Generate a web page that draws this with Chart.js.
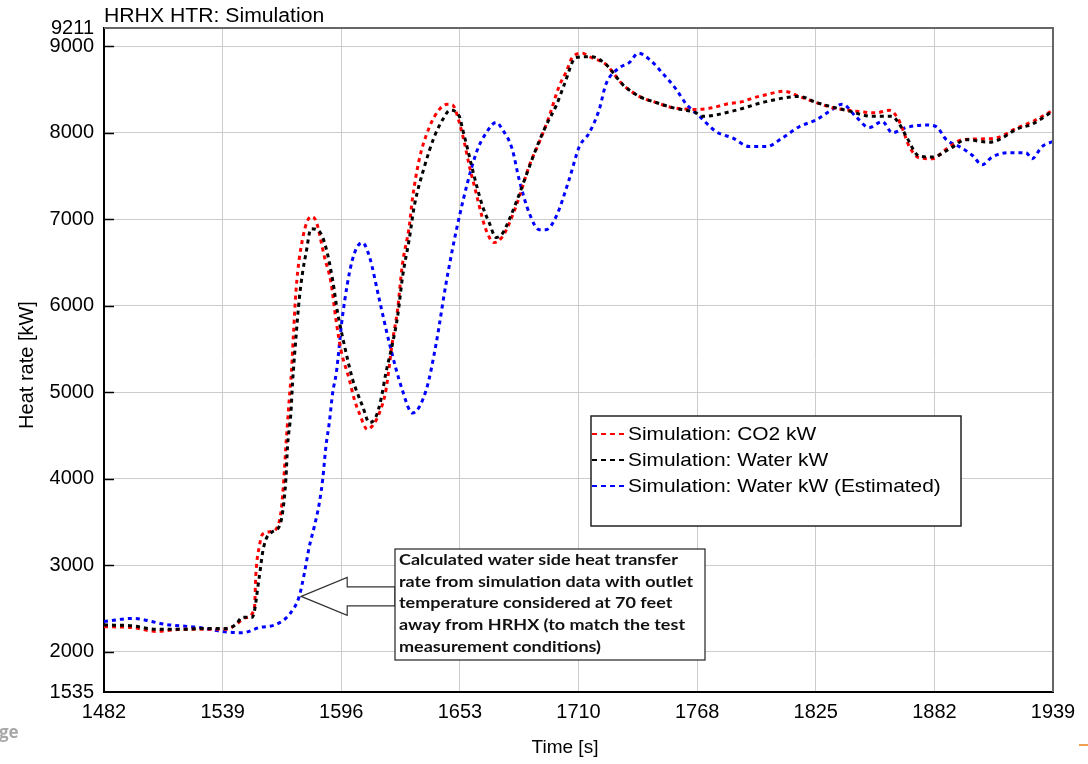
<!DOCTYPE html>
<html>
<head>
<meta charset="utf-8">
<script src="https://cdn.jsdelivr.net/npm/chart.js@4.4.0/dist/chart.umd.min.js"></script>
<style>
html, body { margin: 0; padding: 0; background: #fff; }
#wrap { width: 1088px; height: 764px; position: relative; }
</style>
</head>
<body>
<div id="wrap"><canvas id="hrhxChart" width="1088" height="764"></canvas></div>
<script>
// time axis [s] and heat rate [kW]
const co2Time = [1482, 1495.6, 1507.2, 1519.7, 1531.3, 1540.9, 1545.7, 1549.6, 1554.4, 1555.2,
    1556.8, 1558.4, 1562.4, 1565.6, 1567.2, 1568, 1568.8, 1569.6, 1570.4, 1571.2,
    1572.3, 1573.3, 1574.5, 1577.6, 1581.7, 1584.1, 1588.1, 1591.3, 1593.7, 1596.1,
    1600.1, 1602.5, 1604.9, 1608.9, 1611.2, 1614.6, 1617.8, 1620.8, 1623.4, 1625.6,
    1629, 1630.5, 1633.8, 1638.6, 1643.5, 1647.3, 1649.9, 1653.1, 1655.5, 1657.9,
    1660.3, 1663.5, 1665.9, 1669.9, 1673.9, 1678, 1682, 1686.8, 1691.6, 1696.4,
    1701.2, 1704.5, 1707.5, 1712.5, 1715.7, 1723.7, 1731.7, 1739.8, 1747.8, 1755.8,
    1767.1, 1775.1, 1781.5, 1789.5, 1794.3, 1800.8, 1809.6, 1816.8, 1824.9, 1832.9,
    1844.1, 1853.8, 1860.2, 1864.2, 1866.6, 1869.8, 1874.6, 1881, 1887.5, 1895.5,
    1906.7, 1913.1, 1921.2, 1929.2, 1939];
const co2Kw = [2290, 2280, 2235, 2260, 2260, 2260, 2315, 2390, 2490, 2920,
    3220, 3360, 3390, 3450, 3610, 3800, 4070, 4380, 4650, 4920,
    5250, 5700, 6190, 6770, 7030, 6980, 6570, 6270, 5840, 5490,
    5150, 4920, 4760, 4570, 4610, 4760, 5030, 5570, 5960, 6460,
    6920, 7230, 7690, 8060, 8270, 8330, 8320, 8120, 7890, 7620,
    7390, 7080, 6880, 6730, 6800, 7000, 7260, 7620, 7890, 8190,
    8540, 8700, 8870, 8920, 8880, 8790, 8560, 8420, 8350, 8290,
    8270, 8290, 8330, 8360, 8400, 8440, 8480, 8420, 8350, 8290,
    8250, 8230, 8260, 8170, 8040, 7840, 7710, 7700, 7810, 7920,
    7930, 7950, 8050, 8130, 8260];

const waterTime = [1482, 1495.6, 1507.2, 1519.7, 1531.3, 1540.9, 1545.7, 1548.6, 1553.4, 1556.8,
    1558.4, 1560, 1563.2, 1566.4, 1568, 1569.6, 1570.4, 1572, 1572.8, 1574.5,
    1576, 1577.6, 1579.3, 1581.7, 1585.7, 1588.9, 1592.1, 1594.5, 1597.7, 1601.7,
    1603.4, 1606.5, 1609.8, 1613, 1615.4, 1617.8, 1621, 1623.4, 1625.8, 1629,
    1631.4, 1636.2, 1641, 1645.8, 1648.5, 1653.1, 1654.7, 1657.1, 1658.7, 1661.1,
    1664.3, 1667.5, 1670.8, 1674, 1677.2, 1680.4, 1685.2, 1690, 1694.8, 1699.7,
    1703.7, 1709.3, 1716.5, 1723.7, 1731.7, 1739.8, 1747.8, 1755.8, 1767.1, 1770.2,
    1784.6, 1800.9, 1816.8, 1825, 1840.9, 1852, 1861.6, 1865, 1868.3, 1874.6,
    1880.9, 1889.1, 1897.2, 1908.3, 1913.1, 1921.3, 1929, 1939];
const waterKw = [2310, 2300, 2260, 2260, 2270, 2270, 2320, 2400, 2400, 2870,
    3150, 3300, 3390, 3450, 3610, 4000, 4380, 4760, 5110, 5650,
    6070, 6380, 6610, 6890, 6860, 6670, 6300, 5920, 5550, 5150,
    5030, 4840, 4650, 4720, 4920, 5230, 5570, 5880, 6340, 6770,
    7150, 7600, 7950, 8180, 8260, 8190, 8040, 7810, 7650, 7420,
    7150, 6960, 6790, 6840, 7000, 7190, 7500, 7810, 8080, 8310,
    8560, 8870, 8880, 8790, 8560, 8420, 8350, 8290, 8230, 8190,
    8250, 8360, 8420, 8350, 8250, 8190, 8190, 8100, 7960, 7730,
    7720, 7810, 7920, 7890, 7920, 8040, 8100, 8250];

const estTime = [1482, 1495.6, 1512, 1527.9, 1539, 1548.6, 1556.8, 1564.8, 1571.2, 1576,
    1578.5, 1580.9, 1583.3, 1585.7, 1587.3, 1588.9, 1590.5, 1592.1, 1593.9, 1596.8,
    1601.6, 1606.4, 1609.8, 1614.6, 1619.4, 1625.6, 1630.5, 1637.2, 1642, 1646.8,
    1653.1, 1661.3, 1666.1, 1670.9, 1673.8, 1678.6, 1681.9, 1686.8, 1691.6, 1694.9,
    1699.7, 1706, 1710.9, 1715.7, 1720.5, 1723.7, 1730.1, 1734.9, 1739.3, 1744.6,
    1750.9, 1757.6, 1762.4, 1767.9, 1777, 1784.6, 1792.8, 1801, 1808.7, 1816.8,
    1825, 1832.7, 1837.5, 1844.3, 1850.5, 1856.8, 1861.6, 1868.3, 1878, 1882.8,
    1887.6, 1893.9, 1900.1, 1904.9, 1909.7, 1917.9, 1926, 1928.9, 1933.7, 1939];
const estKw = [2350, 2385, 2315, 2280, 2235, 2220, 2280, 2315, 2430, 2640,
    2910, 3220, 3450, 3720, 3990, 4380, 4650, 4990, 5230, 5870,
    6530, 6730, 6570, 6070, 5570, 5030, 4760, 5030, 5570, 6270,
    7030, 7770, 8000, 8120, 8040, 7810, 7460, 7070, 6880, 6880,
    7030, 7460, 7840, 8000, 8270, 8560, 8750, 8810, 8920, 8850,
    8690, 8500, 8330, 8210, 8010, 7940, 7840, 7840, 7940, 8070,
    8150, 8270, 8330, 8180, 8060, 8130, 8000, 8060, 8090, 8070,
    7920, 7840, 7740, 7630, 7720, 7770, 7770, 7700, 7840, 7900];

// axes
const X_MIN = 1482, X_MAX = 1939;
const xTickLabels = ['1482', '1539', '1596', '1653', '1710', '1768', '1825', '1882', '1939'];
const Y_MIN = 1535, Y_MAX = 9211;
const yTicks = [1535, 2000, 3000, 4000, 5000, 6000, 7000, 8000, 9000, 9211];

const seriesLabels = ['Simulation: CO2 kW', 'Simulation: Water kW', 'Simulation: Water kW (Estimated)'];
const noteLines = [
    'Calculated water side heat transfer',
    'rate from simulation data with outlet',
    'temperature considered at 70 feet',
    'away from HRHX (to match the test',
    'measurement conditions)'
];
const noteTarget = { x: 1576, y: 2640 }; // point on the estimated curve the arrow points at

const FONT = "'Liberation Sans', Arial, sans-serif";

function toPoints(xs, ys) {
    return xs.map((x, i) => ({ x: x, y: ys[i] }));
}

// text a bit wider than the font, like the stretched original
function wideText(ctx, text, x, y, sx) {
    ctx.save();
    ctx.translate(x, y);
    ctx.scale(sx, 1);
    ctx.fillText(text, 0, 0);
    ctx.restore();
}

const extras = {
    id: 'extras',
    afterDraw(chart) {
        const ctx = chart.ctx;
        const area = chart.chartArea;
        const xs = chart.scales.x, ys = chart.scales.y;
        ctx.save();

        // top / right frame
        ctx.strokeStyle = '#666';
        ctx.lineWidth = 2;
        ctx.beginPath();
        ctx.moveTo(area.left, area.top);
        ctx.lineTo(area.right, area.top);
        ctx.lineTo(area.right, area.bottom);
        ctx.stroke();

        // small inner tick marks on y axis
        ctx.strokeStyle = '#000';
        ctx.lineWidth = 1.5;
        yTicks.slice(1, -1).forEach(v => {
            const y = Math.round(ys.getPixelForValue(v)) + 0.5;
            ctx.beginPath();
            ctx.moveTo(area.left, y);
            ctx.lineTo(area.left + 10, y);
            ctx.stroke();
        });

        // title
        ctx.fillStyle = '#000';
        ctx.font = '20px ' + FONT;
        ctx.textAlign = 'left';
        ctx.textBaseline = 'middle';
        wideText(ctx, 'HRHX HTR: Simulation', area.left, 16, 1.06);

        // axis titles
        ctx.textAlign = 'center';
        ctx.font = '19px ' + FONT;
        wideText(ctx, 'Time [s]', 565, 748, 1.0);
        ctx.save();
        ctx.translate(27, 365);
        ctx.rotate(-Math.PI / 2);
        ctx.font = '20px ' + FONT;
        ctx.fillText('Heat rate [kW]', 0, 0);
        ctx.restore();
        ctx.textAlign = 'left';

        // legend
        const lg = { left: 591, top: 416, w: 370, h: 110 };
        ctx.fillStyle = '#fff';
        ctx.fillRect(lg.left, lg.top, lg.w, lg.h);
        ctx.strokeStyle = '#222';
        ctx.lineWidth = 1.5;
        ctx.strokeRect(lg.left, lg.top, lg.w, lg.h);
        const colors = ['#ff0000', '#000000', '#0000ff'];
        seriesLabels.forEach((lab, i) => {
            const cy = lg.top + 18 + i * 26;
            ctx.strokeStyle = colors[i];
            ctx.lineWidth = 2;
            ctx.setLineDash([5, 4]);
            ctx.beginPath();
            ctx.moveTo(lg.left + 1, cy);
            ctx.lineTo(lg.left + 33, cy);
            ctx.stroke();
            ctx.setLineDash([]);
            ctx.fillStyle = '#000';
            ctx.font = '19px ' + FONT;
            ctx.textBaseline = 'middle';
            wideText(ctx, lab, lg.left + 37, cy + 1, 1.1);
        });

        // note box with arrow
        const nb = { left: 395, top: 549, w: 310, h: 111 };
        const tipX = xs.getPixelForValue(noteTarget.x) + 2;
        const tipY = ys.getPixelForValue(noteTarget.y);
        const headX = tipX + 46;
        ctx.fillStyle = '#fff';
        ctx.strokeStyle = '#333';
        ctx.lineWidth = 1.2;
        ctx.beginPath();
        ctx.moveTo(tipX, tipY);
        ctx.lineTo(headX, tipY - 19);
        ctx.lineTo(headX, tipY - 9.5);
        ctx.lineTo(nb.left, tipY - 9.5);
        ctx.lineTo(nb.left, tipY + 9.5);
        ctx.lineTo(headX, tipY + 9.5);
        ctx.lineTo(headX, tipY + 19);
        ctx.closePath();
        ctx.fill();
        ctx.stroke();

        ctx.fillStyle = '#fff';
        ctx.fillRect(nb.left, nb.top, nb.w, nb.h);
        ctx.strokeStyle = '#222';
        ctx.lineWidth = 1.2;
        ctx.strokeRect(nb.left, nb.top, nb.w, nb.h);
        ctx.fillStyle = '#111';
        ctx.font = "bold 15px Lato, 'Open Sans', sans-serif";
        ctx.textBaseline = 'middle';
        noteLines.forEach((line, i) => {
            wideText(ctx, line, nb.left + 4, nb.top + 11 + i * 21.8, 1.2);
        });

        // slide leftovers at the edges
        ctx.fillStyle = '#a8a8a8';
        ctx.font = "bold 17px 'Open Sans', sans-serif";
        ctx.textBaseline = 'alphabetic';
        ctx.fillText('ge', -1, 738);
        ctx.strokeStyle = '#f0a050';
        ctx.lineWidth = 2;
        ctx.beginPath();
        ctx.moveTo(1079, 745);
        ctx.lineTo(1088, 745);
        ctx.stroke();

        ctx.restore();
    }
};

const config = {
    type: 'line',
    data: {
        datasets: [{
            label: seriesLabels[0],
            data: toPoints(co2Time, co2Kw),
            borderColor: '#ff0000',
            order: 1
        }, {
            label: seriesLabels[1],
            data: toPoints(waterTime, waterKw),
            borderColor: '#000000',
            order: 0
        }, {
            label: seriesLabels[2],
            data: toPoints(estTime, estKw),
            borderColor: '#0000ff',
            order: 2
        }]
    },
    options: {
        responsive: false,
        animation: false,
        devicePixelRatio: 1,
        layout: { padding: { top: 28, right: 35, left: 0, bottom: 0 } },
        elements: {
            line: {
                borderWidth: 3,
                borderDash: [4, 4],
                cubicInterpolationMode: 'monotone',
                fill: false
            },
            point: { radius: 0, hoverRadius: 0 }
        },
        plugins: {
            legend: { display: false },
            tooltip: { enabled: false },
            title: { display: false }
        },
        scales: {
            x: {
                type: 'linear',
                min: X_MIN,
                max: X_MAX,
                afterBuildTicks(scale) {
                    const n = xTickLabels.length;
                    scale.ticks = xTickLabels.map((_, i) => ({ value: X_MIN + i * (X_MAX - X_MIN) / (n - 1) }));
                },
                afterFit(scale) { scale.height = 72; },
                ticks: {
                    autoSkip: false,
                    maxRotation: 0,
                    padding: 8,
                    color: '#000',
                    font: { family: FONT, size: 20 },
                    callback: (v, i) => xTickLabels[i]
                },
                grid: { color: '#cccccc', lineWidth: 1, drawTicks: false },
                border: { color: '#000', width: 2 }
            },
            y: {
                type: 'linear',
                min: Y_MIN,
                max: Y_MAX,
                afterBuildTicks(scale) {
                    scale.ticks = yTicks.map(v => ({ value: v }));
                },
                afterFit(scale) { scale.width = 104; },
                ticks: {
                    autoSkip: false,
                    padding: 10,
                    color: '#000',
                    font: { family: FONT, size: 20 },
                    callback: v => String(v)
                },
                grid: {
                    color: c => (c.tick && (c.tick.value === Y_MIN || c.tick.value === Y_MAX)) ? 'rgba(0,0,0,0)' : '#cccccc',
                    lineWidth: 1,
                    drawTicks: false
                },
                border: { color: '#000', width: 2 }
            }
        }
    },
    plugins: [extras]
};

const ctx = document.getElementById('hrhxChart').getContext('2d');
new Chart(ctx, config);
</script>
</body>
</html>
